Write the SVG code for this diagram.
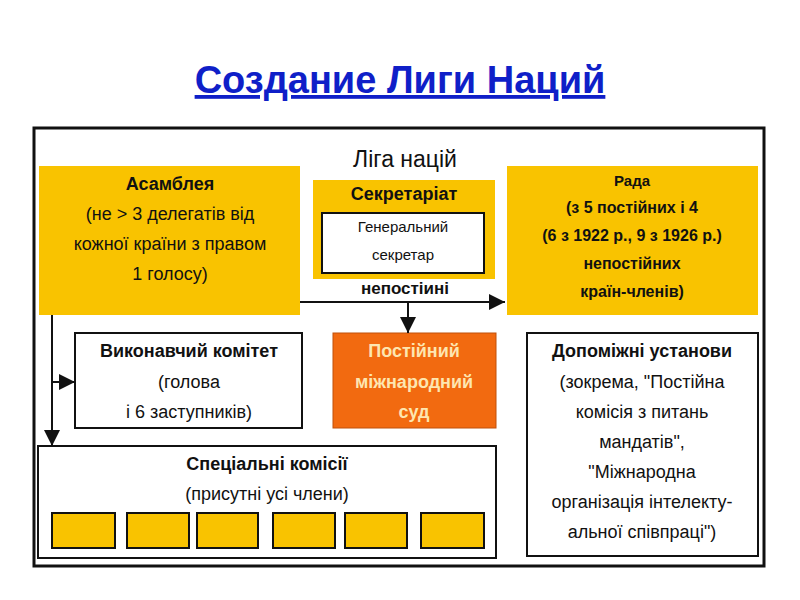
<svg xmlns="http://www.w3.org/2000/svg" width="800" height="600" viewBox="0 0 800 600">
<defs>
<style>
text{font-family:"Liberation Sans",Arial,sans-serif;text-anchor:middle;fill:#111}
.b{font-weight:bold}
.y{fill:#F9C300}
.w{fill:#fff;stroke:#111;stroke-width:2}
.t{font-size:18px}
.ln{stroke:#111;stroke-width:2;fill:none}
</style>
<marker id="a" viewBox="0 0 10 10" refX="10" refY="5" markerWidth="8" markerHeight="8" markerUnits="userSpaceOnUse" orient="auto"><path d="M0,0L10,5L0,10z" fill="#111"/></marker>
<marker id="A" viewBox="0 0 10 10" refX="10" refY="5" markerWidth="16" markerHeight="16" markerUnits="userSpaceOnUse" orient="auto"><path d="M0,0L10,5L0,10z" fill="#111"/></marker>
</defs>
<rect width="800" height="600" fill="#fff"/>
<g id="title"><text x="400" y="93" class="b" style="font-size:38px;fill:#0F1FC8;text-decoration:underline">Создание Лиги Наций</text></g>
<rect x="34" y="128" width="730" height="438" fill="none" stroke="#111" stroke-width="3"/>
<text x="405" y="167" style="font-size:23px">Ліга націй</text>
<g id="assembly"><rect x="39" y="166" width="261" height="149" class="y"/>
<text class="t b" x="170" y="190">Асамблея</text>
<text class="t" x="170" y="220">(не &gt; 3 делегатів від</text>
<text class="t" x="170" y="250">кожної країни з правом</text>
<text class="t" x="170" y="280">1 голосу)</text></g>
<g id="secretariat"><rect x="313" y="180" width="182" height="99" class="y"/>
<text class="t b" x="404" y="200">Секретаріат</text>
<rect x="322" y="213" width="162" height="60" class="w"/>
<text x="403" y="232" style="font-size:15px">Генеральний</text>
<text x="403" y="260" style="font-size:15px">секретар</text></g>
<g id="council"><rect x="507" y="166" width="251" height="149" class="y"/>
<text class="b" x="632" y="186" style="font-size:15px">Рада</text>
<text class="b" x="632" y="213" style="font-size:16px">(з 5 постійних і 4</text>
<text class="b" x="632" y="241" style="font-size:16px">(6 з 1922 р., 9 з 1926 р.)</text>
<text class="b" x="632" y="269" style="font-size:16px">непостійних</text>
<text class="b" x="632" y="297" style="font-size:16px">країн-членів)</text></g>
<text class="b" x="405" y="294" style="font-size:17px">непостіині</text>
<g id="exec"><rect x="75" y="333" width="227" height="95" class="w"/>
<text class="t b" x="189" y="357">Виконавчий комітет</text>
<text class="t" x="189" y="388">(голова</text>
<text class="t" x="189" y="418">і 6 заступників)</text></g>
<g id="court"><rect x="333" y="333" width="163" height="95" fill="#F26A10" stroke="#c0500a" stroke-width="1"/>
<text class="t b" x="414" y="357" style="fill:#FDE6B0">Постійний</text>
<text class="t b" x="414" y="388" style="fill:#FDE6B0">міжнародний</text>
<text class="t b" x="414" y="418" style="fill:#FDE6B0">суд</text></g>
<g id="aux"><rect x="527" y="333" width="231" height="223" class="w"/>
<text class="t b" x="642" y="357">Допоміжні установи</text>
<text class="t" x="642" y="388">(зокрема, "Постійна</text>
<text class="t" x="642" y="418">комісія з питань</text>
<text class="t" x="642" y="448">мандатів",</text>
<text class="t" x="642" y="478">"Міжнародна</text>
<text class="t" x="642" y="508">організація інтелекту-</text>
<text class="t" x="642" y="538">альної співпраці")</text></g>
<g id="special"><rect x="38" y="446" width="458" height="112" class="w"/>
<text class="t b" x="267" y="470">Спеціальні комісії</text>
<text class="t" x="267" y="500">(присутні усі члени)</text>
<g stroke="#111" stroke-width="2" fill="#F9C300">
<rect x="52" y="513" width="63" height="35"/><rect x="127" y="513" width="62" height="35"/><rect x="197" y="513" width="61" height="35"/><rect x="273" y="513" width="62" height="35"/><rect x="345" y="513" width="62" height="35"/><rect x="421" y="513" width="63" height="35"/></g></g>
<g id="connectors">
<path class="ln" d="M300,302H505" marker-end="url(#A)"/>
<path class="ln" d="M408,302V333" marker-end="url(#A)"/>
<path class="ln" d="M52,315V446" marker-end="url(#A)"/>
<path class="ln" d="M52,382H75" marker-end="url(#A)"/>
</g>
</svg>
